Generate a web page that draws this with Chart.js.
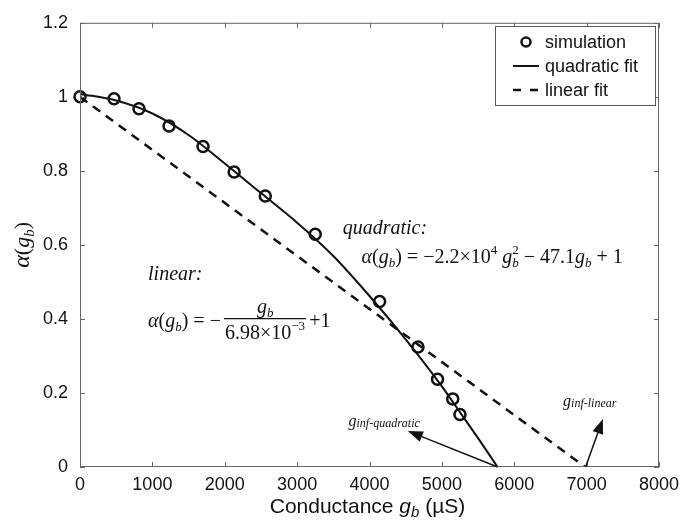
<!DOCTYPE html>
<html>
<head>
<meta charset="utf-8">
<script src="https://cdn.jsdelivr.net/npm/chart.js@4.4.1/dist/chart.umd.min.js"></script>
<style>
  html, body { margin: 0; padding: 0; background: #fff; }
  #wrap { width: 695px; height: 524px; }
</style>
</head>
<body>
<div id="wrap"><canvas id="myChart" width="695" height="524"></canvas></div>
<script>
// simulation points (conductance in uS, alpha)
const simX = [0, 470, 815, 1230, 1700, 2130, 2560, 3250, 4140, 4670, 4940, 5150, 5250];
const simY = [1.0, 0.995, 0.968, 0.921, 0.866, 0.797, 0.732, 0.629, 0.447, 0.324, 0.237, 0.184, 0.142];

// quadratic fit
const quadX = [0, 500, 1000, 1500, 2000, 2500, 3000, 3500, 4000, 4500, 5000, 5250, 5500, 5770];
const quadY = [1.008, 0.99, 0.955, 0.897, 0.82, 0.74, 0.66, 0.57, 0.462, 0.345, 0.218, 0.148, 0.078, 0];

// linear fit
const linX = [0, 6980];
const linY = [1, 0];

const xTicks = [0, 1000, 2000, 3000, 4000, 5000, 6000, 7000, 8000];
const yTicks = [0, 0.2, 0.4, 0.6, 0.8, 1, 1.2];

const SERIF = '"Liberation Serif", "Times New Roman", serif';
const SANS = '"Liberation Sans", Arial, sans-serif';
const INK = '#111';

function pts(xs, ys) {
    return xs.map(function (x, i) { return { x: x, y: ys[i] }; });
}

// draws a row of text pieces with their own fonts, returns the end x
function rich(ctx, x, y, parts) {
    let prevStart = x, prevEnd = x;
    parts.forEach(function (p) {
        ctx.font = p.f;
        let start = p.stack ? prevStart : x;
        ctx.fillText(p.t, start, y + (p.dy || 0));
        let end = start + ctx.measureText(p.t).width;
        if (p.stack) {
            x = Math.max(prevEnd, end);
        } else {
            prevStart = start;
            prevEnd = end;
            x = end;
        }
    });
    return x;
}

function arrow(ctx, x0, y0, x1, y1) {
    const ang = Math.atan2(y1 - y0, x1 - x0);
    const len = 15, half = 5.5;
    const bx = x1 - len * Math.cos(ang), by = y1 - len * Math.sin(ang);
    ctx.beginPath();
    ctx.moveTo(x0, y0);
    ctx.lineTo(bx, by);
    ctx.lineWidth = 1.5;
    ctx.stroke();
    ctx.beginPath();
    ctx.moveTo(x1, y1);
    ctx.lineTo(bx + half * Math.sin(ang), by - half * Math.cos(ang));
    ctx.lineTo(bx - half * Math.sin(ang), by + half * Math.cos(ang));
    ctx.closePath();
    ctx.fill();
}

const extras = {
    id: 'extras',
    afterDraw: function (chart) {
        const ctx = chart.ctx;
        const xs = chart.scales.x, ys = chart.scales.y;
        const a = chart.chartArea;
        const px = function (v) { return xs.getPixelForValue(v); };
        const py = function (v) { return ys.getPixelForValue(v); };
        ctx.save();

        // box and inward ticks
        ctx.strokeStyle = '#666';
        ctx.lineWidth = 1;
        ctx.strokeRect(a.left + 0.5, a.top + 0.5, a.right - a.left - 1, a.bottom - a.top - 1);
        ctx.beginPath();
        xTicks.forEach(function (t) {
            const x = Math.round(px(t)) + 0.5;
            ctx.moveTo(x, a.bottom); ctx.lineTo(x, a.bottom - 5);
            ctx.moveTo(x, a.top); ctx.lineTo(x, a.top + 5);
        });
        yTicks.forEach(function (t) {
            const y = Math.round(py(t)) + 0.5;
            ctx.moveTo(a.left, y); ctx.lineTo(a.left + 5, y);
            ctx.moveTo(a.right, y); ctx.lineTo(a.right - 5, y);
        });
        ctx.stroke();

        ctx.fillStyle = INK;
        ctx.strokeStyle = INK;
        ctx.textBaseline = 'alphabetic';
        ctx.textAlign = 'left';

        // quadratic annotation
        rich(ctx, px(3630), py(0.63), [{ t: 'quadratic:', f: 'italic 20px ' + SERIF }]);
        const R = '20px ' + SERIF, I = 'italic 20px ' + SERIF;
        const Rs = '13px ' + SERIF, Is = 'italic 13px ' + SERIF;
        rich(ctx, px(3890), py(0.552), [
            { t: 'α', f: I }, { t: '(', f: R }, { t: 'g', f: I }, { t: 'b', f: Is, dy: 4 },
            { t: ')', f: R }, { t: ' = −2.2×10', f: R }, { t: '4', f: Rs, dy: -9 },
            { t: ' g', f: I }, { t: 'b', f: Is, dy: 4 }, { t: '2', f: Rs, dy: -9, stack: true },
            { t: ' − 47.1', f: R }, { t: 'g', f: I }, { t: 'b', f: Is, dy: 4 }, { t: ' + 1', f: R }
        ]);

        // linear annotation
        rich(ctx, px(940), py(0.505), [{ t: 'linear:', f: 'italic 20px ' + SERIF }]);
        const base = py(0.379);
        let x = rich(ctx, px(940), base, [
            { t: 'α', f: I }, { t: '(', f: R }, { t: 'g', f: I }, { t: 'b', f: Is, dy: 4 },
            { t: ')', f: R }, { t: ' = −', f: R }
        ]);
        x += 3;
        ctx.font = R;
        const denW = ctx.measureText('6.98×10').width + 14;
        ctx.beginPath();
        ctx.lineWidth = 1.2;
        ctx.moveTo(x, base - 8); ctx.lineTo(x + denW + 2, base - 8);
        ctx.stroke();
        rich(ctx, x + denW / 2 - 7, base - 14, [{ t: 'g', f: I }, { t: 'b', f: Is, dy: 4 }]);
        rich(ctx, x + 1, base + 12, [{ t: '6.98×10', f: R }, { t: '−3', f: Rs, dy: -9 }]);
        rich(ctx, x + denW + 5, base, [{ t: '+1', f: R }]);

        // g_inf arrows and labels
        ctx.fillStyle = INK;
        arrow(ctx, px(5770), py(0), px(4530), py(0.097));
        arrow(ctx, px(6985), py(0), px(7225), py(0.13));
        rich(ctx, px(3710), py(0.11), [
            { t: 'g', f: 'italic 16px ' + SERIF }, { t: 'inf-quadratic', f: 'italic 12px ' + SERIF, dy: 1 }
        ]);
        rich(ctx, px(6675), py(0.165), [
            { t: 'g', f: 'italic 16px ' + SERIF }, { t: 'inf-linear', f: 'italic 12px ' + SERIF, dy: 1 }
        ]);

        // legend
        ctx.fillStyle = '#fff';
        ctx.fillRect(495, 26, 160, 79);
        ctx.strokeStyle = '#555';
        ctx.lineWidth = 1;
        ctx.strokeRect(495.5, 26.5, 160, 79);
        ctx.strokeStyle = INK;
        ctx.fillStyle = INK;
        ctx.beginPath();
        ctx.lineWidth = 2.5;
        ctx.arc(526, 42, 4.5, 0, Math.PI * 2);
        ctx.stroke();
        ctx.beginPath();
        ctx.lineWidth = 2;
        ctx.moveTo(513, 66); ctx.lineTo(539, 66);
        ctx.stroke();
        ctx.beginPath();
        ctx.lineWidth = 2.5;
        ctx.moveTo(513, 90); ctx.lineTo(521, 90);
        ctx.moveTo(530, 90); ctx.lineTo(538, 90);
        ctx.stroke();
        ctx.font = '18px ' + SANS;
        ctx.fillText('simulation', 545, 48);
        ctx.fillText('quadratic fit', 545, 72);
        ctx.fillText('linear fit', 545, 96);

        // axis titles
        ctx.fillStyle = INK;
        const S = '21px ' + SANS;
        ctx.font = S;
        const parts = [
            { t: 'Conductance ', f: S }, { t: 'g', f: 'italic 21px ' + SANS },
            { t: 'b', f: 'italic 15px ' + SANS, dy: 4 }, { t: ' (µS)', f: S }
        ];
        let w = 0;
        parts.forEach(function (p) { ctx.font = p.f; w += ctx.measureText(p.t).width; });
        rich(ctx, (a.left + a.right) / 2 - w / 2 - 2, 513, parts);

        ctx.translate(29, (a.top + a.bottom) / 2);
        ctx.rotate(-Math.PI / 2);
        const yparts = [
            { t: 'α', f: 'italic 24px ' + SERIF }, { t: '(', f: '22px ' + SERIF },
            { t: 'g', f: 'italic 22px ' + SERIF }, { t: 'b', f: 'italic 15px ' + SERIF, dy: 5 },
            { t: ')', f: '22px ' + SERIF }
        ];
        w = 0;
        yparts.forEach(function (p) { ctx.font = p.f; w += ctx.measureText(p.t).width; });
        rich(ctx, -w / 2, 0, yparts);
        ctx.restore();
    }
};

new Chart(document.getElementById('myChart'), {
    type: 'scatter',
    data: {
        datasets: [{
            label: 'simulation',
            data: pts(simX, simY),
            showLine: false,
            pointStyle: 'circle',
            pointRadius: 5.5,
            pointBorderWidth: 2.5,
            pointBorderColor: INK,
            pointBackgroundColor: 'rgba(0,0,0,0)',
            clip: false
        }, {
            label: 'quadratic fit',
            data: pts(quadX, quadY),
            showLine: true,
            pointRadius: 0,
            borderColor: INK,
            borderWidth: 2,
            cubicInterpolationMode: 'monotone'
        }, {
            label: 'linear fit',
            data: pts(linX, linY),
            showLine: true,
            pointRadius: 0,
            borderColor: INK,
            borderWidth: 2.5,
            borderDash: [9, 7]
        }]
    },
    options: {
        responsive: false,
        animation: false,
        layout: { padding: { top: 11, right: 36, left: 0, bottom: 0 } },
        plugins: { legend: { display: false }, tooltip: { enabled: false } },
        scales: {
            x: {
                min: 0, max: 8000,
                afterFit: function (s) { s.height = 57; },
                afterBuildTicks: function (s) { s.ticks = xTicks.map(function (v) { return { value: v }; }); },
                grid: { display: false, drawTicks: false },
                border: { display: false },
                ticks: {
                    color: INK, font: { family: SANS, size: 18 }, padding: 7, maxRotation: 0,
                    callback: function (v) { return String(v); }
                }
            },
            y: {
                min: 0, max: 1.2,
                afterFit: function (s) { s.width = 80; },
                afterBuildTicks: function (s) { s.ticks = yTicks.map(function (v) { return { value: v }; }); },
                grid: { display: false, drawTicks: false },
                border: { display: false },
                ticks: {
                    color: INK, font: { family: SANS, size: 18 }, padding: 12,
                    callback: function (v) { return String(Math.round(v * 10) / 10); }
                }
            }
        }
    },
    plugins: [extras]
});
</script>
</body>
</html>
